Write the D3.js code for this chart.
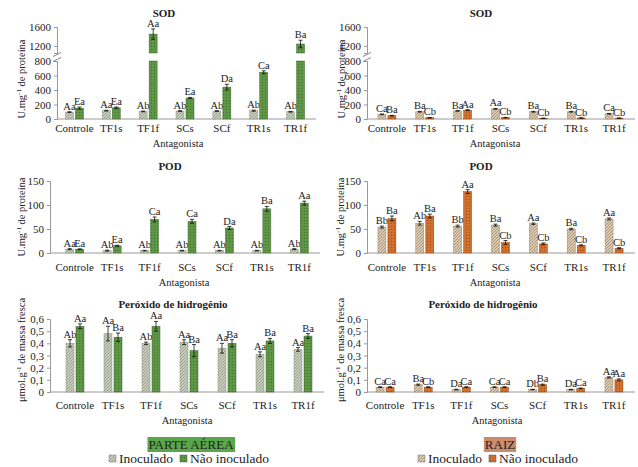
<!DOCTYPE html>
<html>
<head>
<meta charset="utf-8">
<script src="https://cdn.jsdelivr.net/npm/d3@7"></script>
<style>
    body { margin: 0; background: #fff; }
    #SVG_CONTAINER, #SVG_CONTAINER text { font-family: "Liberation Serif", "Times New Roman", "DejaVu Serif", serif !important; }
</style>
</head>
<body>
<svg id="SVG_CONTAINER" width="638" height="467"></svg>
<script>
// ---- data ----
const categories = ["Controle", "TF1s", "TF1f", "SCs", "SCf", "TR1s", "TR1f"];

// SOD - parte aerea
const sodAereaInoc = [95, 115, 105, 110, 110, 115, 100];
const sodAereaInocErr = [5, 6, 5, 5, 5, 8, 5];
const sodAereaInocLbl = ["Aa", "Aa", "Ab", "Ab", "Ab", "Ab", "Ab"];
const sodAereaNao = [150, 155, 1450, 290, 440, 645, 1240];
const sodAereaNaoErr = [15, 10, 110, 8, 40, 20, 80];
const sodAereaNaoLbl = ["Ea", "Ea", "Aa", "Ea", "Da", "Ca", "Ba"];

// SOD - raiz
const sodRaizInoc = [65, 100, 112, 140, 100, 100, 72];
const sodRaizInocErr = [5, 5, 5, 5, 5, 5, 5];
const sodRaizInocLbl = ["Ca", "Ba", "Ba", "Aa", "Ba", "Ba", "Ca"];
const sodRaizNao = [46, 18, 122, 20, 10, 14, 12];
const sodRaizNaoErr = [4, 3, 6, 3, 2, 2, 2];
const sodRaizNaoLbl = ["Ba", "Cb", "Aa", "Cb", "Cb", "Cb", "Cb"];

// POD - parte aerea
const podAereaInoc = [8, 5, 5, 5, 5, 5, 8];
const podAereaInocErr = [1, 1, 0.5, 0.5, 0.5, 0.5, 1];
const podAereaInocLbl = ["Aa", "Ab", "Ab", "Ab", "Ab", "Ab", "Ab"];
const podAereaNao = [8, 15, 70, 66, 52, 92, 104];
const podAereaNaoErr = [0.5, 1, 5, 4, 3, 5, 4];
const podAereaNaoLbl = ["Ea", "Ea", "Ca", "Ca", "Da", "Ba", "Aa"];

// POD - raiz
const podRaizInoc = [54, 62, 56, 58, 61, 50, 71];
const podRaizInocErr = [2, 4, 2, 2, 1.5, 1.5, 2];
const podRaizInocLbl = ["Bb", "Ab", "Bb", "Ba", "Aa", "Ba", "Aa"];
const podRaizNao = [72, 77, 128, 22, 19, 16, 10];
const podRaizNaoErr = [5, 4, 4, 4, 2, 1, 1];
const podRaizNaoLbl = ["Ba", "Ba", "Aa", "Cb", "Cb", "Cb", "Cb"];

// Peroxido - parte aerea
const h2o2AereaInoc = [0.40, 0.48, 0.40, 0.41, 0.36, 0.31, 0.35];
const h2o2AereaInocErr = [0.03, 0.06, 0.01, 0.02, 0.04, 0.02, 0.015];
const h2o2AereaInocLbl = ["Ab", "Aa", "Ab", "Aa", "Aa", "Aa", "Aa"];
const h2o2AereaNao = [0.54, 0.45, 0.54, 0.34, 0.40, 0.42, 0.46];
const h2o2AereaNaoErr = [0.02, 0.035, 0.04, 0.05, 0.03, 0.02, 0.02];
const h2o2AereaNaoLbl = ["Aa", "Ba", "Aa", "Ba", "Ba", "Ba", "Ba"];

// Peroxido - raiz
const h2o2RaizInoc = [0.04, 0.06, 0.02, 0.04, 0.02, 0.02, 0.12];
const h2o2RaizInocErr = [0.003, 0.005, 0.003, 0.003, 0.002, 0.002, 0.005];
const h2o2RaizInocLbl = ["Ca", "Ba", "Da", "Ca", "Db", "Da", "Aa"];
const h2o2RaizNao = [0.04, 0.04, 0.04, 0.04, 0.06, 0.03, 0.10];
const h2o2RaizNaoErr = [0.003, 0.003, 0.003, 0.003, 0.005, 0.003, 0.008];
const h2o2RaizNaoLbl = ["Ca", "Cb", "Ca", "Ca", "Ba", "Ca", "Aa"];

const sodTicksLow = [0, 200, 400, 600, 800];
const sodTicksHigh = [1200, 1600];
const podTicks = [0, 50, 100, 150];
const h2o2Ticks = [0, 0.1, 0.2, 0.3, 0.4, 0.5, 0.6];

const FONT = "Liberation Serif";

let svg = d3.select("#SVG_CONTAINER");

//** PATTERNS *****************************************
let defs = svg.append("defs");

function hatch(id, base, line) {
    let p = defs.append("pattern").attr("id", id)
        .attr("patternUnits", "userSpaceOnUse").attr("width", 3).attr("height", 3);
    p.append("rect").attr("width", 3).attr("height", 3).attr("fill", base);
    p.append("path").attr("d", "M0,3 L3,0 M-1,1 L1,-1 M2,4 L4,2")
        .attr("stroke", line).attr("stroke-width", 0.8);
}
function dots(id, base, dot) {
    let p = defs.append("pattern").attr("id", id)
        .attr("patternUnits", "userSpaceOnUse").attr("width", 3).attr("height", 3);
    p.append("rect").attr("width", 3).attr("height", 3).attr("fill", base);
    p.append("rect").attr("x", 1).attr("y", 1).attr("width", 1).attr("height", 1).attr("fill", dot);
}
hatch("hatchGray", "#c8cdbd", "#8b9680");
dots("dotGreen", "#5f9546", "#41732e");
hatch("hatchTan", "#d9c9b0", "#a28c6e");
dots("dotOrange", "#d0702f", "#a4501b");

function fmtComma(d) {
    return d === 0 ? "0" : String(d).replace(".", ",");
}

function txt(sel, size) {
    return sel.attr("font-family", FONT).style("font-family", FONT)
        .style("font-size", size + "px").attr("fill", "#222");
}

//** PANEL *****************************************
function drawPanel(cfg) {
    let g = svg.append("g");

    let x = d3.scaleBand().domain(categories).range([cfg.x0, cfg.x1]);
    let y = cfg.y;
    let yTop = cfg.yHigh;   // only for broken axis
    let baseY = y(0);

    function pos(v) {
        if (yTop && v > cfg.breakLow) return yTop(v);
        return y(v);
    }

    // axis lines
    g.append("line")
        .attr("x1", cfg.axisX).attr("x2", cfg.x1 + 2)
        .attr("y1", baseY).attr("y2", baseY)
        .attr("stroke", "#999").attr("stroke-width", 1);

    let yAxis = d3.axisLeft(y).tickValues(cfg.ticks).tickSize(3).tickFormat(cfg.fmt || d3.format("d"));
    let ya = g.append("g").attr("transform", "translate(" + cfg.axisX + ",0)").call(yAxis);
    ya.attr("font-family", FONT);
    ya.select(".domain").attr("stroke", "#999");
    ya.selectAll(".tick line").attr("stroke", "#999");
    txt(ya.selectAll(".tick text"), 11);

    if (yTop) {
        let yb = g.append("g").attr("transform", "translate(" + cfg.axisX + ",0)")
            .call(d3.axisLeft(yTop).tickValues(cfg.ticksHigh).tickSize(3).tickFormat(d3.format("d")));
        yb.attr("font-family", FONT);
        yb.select(".domain").attr("stroke", "#999");
        yb.selectAll(".tick line").attr("stroke", "#999");
        txt(yb.selectAll(".tick text"), 11);
        // break marks
        let by = (yTop.range()[0] + y.range()[1]) / 2;
        g.append("rect").attr("x", cfg.axisX - 4).attr("y", by - 2.5).attr("width", 8).attr("height", 5).attr("fill", "#fff");
        [-2.5, 2.5].forEach(function (o) {
            g.append("line")
                .attr("x1", cfg.axisX - 4).attr("y1", by + o + 2)
                .attr("x2", cfg.axisX + 4).attr("y2", by + o - 2)
                .attr("stroke", "#666").attr("stroke-width", 0.8);
        });
    }

    // category labels
    categories.forEach(function (c) {
        txt(g.append("text"), 11)
            .attr("x", x(c) + x.bandwidth() / 2)
            .attr("y", cfg.catY)
            .attr("text-anchor", "middle")
            .text(c);
    });

    // titles
    txt(g.append("text"), 11).attr("x", cfg.titleX).attr("y", cfg.titleY)
        .attr("text-anchor", "middle").attr("font-weight", "bold")
        .text(cfg.title);
    txt(g.append("text"), 10.5).attr("x", cfg.titleX + 14).attr("y", cfg.catY + 15)
        .attr("text-anchor", "middle")
        .text("Antagonista");

    // y label
    let yl = txt(g.append("text"), 10.5)
        .attr("transform", "translate(" + cfg.ylabelX + "," + cfg.ylabelY + ") rotate(-90)")
        .attr("text-anchor", "middle");
    yl.append("tspan").text(cfg.unit);
    yl.append("tspan").attr("dy", -4).style("font-size", "7px").text("-1");
    yl.append("tspan").attr("dy", 4).text(cfg.ylabelRest);

    // bars
    let series = [
        { vals: cfg.inoc, err: cfg.inocErr, lbl: cfg.inocLbl, fill: cfg.fillInoc, stroke: cfg.strokeInoc, off: -9 },
        { vals: cfg.nao, err: cfg.naoErr, lbl: cfg.naoLbl, fill: cfg.fillNao, stroke: cfg.strokeNao, off: 1 }
    ];
    let bw = 8;

    series.forEach(function (s) {
        categories.forEach(function (c, i) {
            let v = s.vals[i];
            let cx = x(c) + x.bandwidth() / 2 + s.off;
            if (yTop && v > cfg.breakLow) {
                g.append("rect").attr("x", cx).attr("y", y.range()[1])
                    .attr("width", bw).attr("height", baseY - y.range()[1])
                    .attr("fill", s.fill).attr("stroke", s.stroke).attr("stroke-width", 0.5);
                g.append("rect").attr("x", cx).attr("y", yTop(v))
                    .attr("width", bw).attr("height", yTop.range()[0] - yTop(v))
                    .attr("fill", s.fill).attr("stroke", s.stroke).attr("stroke-width", 0.5);
            } else {
                g.append("rect").attr("x", cx).attr("y", y(v))
                    .attr("width", bw).attr("height", baseY - y(v))
                    .attr("fill", s.fill).attr("stroke", s.stroke).attr("stroke-width", 0.5);
            }
            // error bar
            let ex = cx + bw / 2;
            let eTop = pos(v + s.err[i]), eBot = pos(v - s.err[i]);
            g.append("path")
                .attr("d", "M" + ex + "," + eTop + "V" + eBot +
                    "M" + (ex - 2) + "," + eTop + "H" + (ex + 2) +
                    "M" + (ex - 2) + "," + eBot + "H" + (ex + 2))
                .attr("stroke", "#111").attr("stroke-width", 0.8).attr("fill", "none");
            // letters
            txt(g.append("text"), 10.5)
                .attr("x", ex).attr("y", eTop - 2)
                .attr("text-anchor", "middle")
                .text(s.lbl[i]);
        });
    });
}

//** SOD *****************************************
drawPanel({
    x0: 56, x1: 314, axisX: 57,
    y: d3.scaleLinear().domain([0, 800]).range([119, 61]),
    yHigh: d3.scaleLinear().domain([1050, 1600]).range([53, 27]),
    breakLow: 800, ticks: sodTicksLow, ticksHigh: sodTicksHigh,
    title: "SOD", titleX: 164, titleY: 17, catY: 132,
    unit: "U.mg", ylabelRest: " de proteína", ylabelX: 25, ylabelY: 79,
    inoc: sodAereaInoc, inocErr: sodAereaInocErr, inocLbl: sodAereaInocLbl,
    nao: sodAereaNao, naoErr: sodAereaNaoErr, naoLbl: sodAereaNaoLbl,
    fillInoc: "url(#hatchGray)", strokeInoc: "#8b9680", fillNao: "url(#dotGreen)", strokeNao: "#3f6e2c"
});
drawPanel({
    x0: 368, x1: 633, axisX: 367,
    y: d3.scaleLinear().domain([0, 800]).range([119, 61]),
    yHigh: d3.scaleLinear().domain([1050, 1600]).range([53, 27]),
    breakLow: 800, ticks: sodTicksLow, ticksHigh: sodTicksHigh,
    title: "SOD", titleX: 481, titleY: 17, catY: 132,
    unit: "U.mg", ylabelRest: " de proteína", ylabelX: 345, ylabelY: 79,
    inoc: sodRaizInoc, inocErr: sodRaizInocErr, inocLbl: sodRaizInocLbl,
    nao: sodRaizNao, naoErr: sodRaizNaoErr, naoLbl: sodRaizNaoLbl,
    fillInoc: "url(#hatchTan)", strokeInoc: "#9c866a", fillNao: "url(#dotOrange)", strokeNao: "#9a4a18"
});

//** POD *****************************************
drawPanel({
    x0: 56, x1: 318, axisX: 50,
    y: d3.scaleLinear().domain([0, 150]).range([253, 181]),
    ticks: podTicks,
    title: "POD", titleX: 170, titleY: 170, catY: 271,
    unit: "U.mg", ylabelRest: " de proteína", ylabelX: 25, ylabelY: 217,
    inoc: podAereaInoc, inocErr: podAereaInocErr, inocLbl: podAereaInocLbl,
    nao: podAereaNao, naoErr: podAereaNaoErr, naoLbl: podAereaNaoLbl,
    fillInoc: "url(#hatchGray)", strokeInoc: "#8b9680", fillNao: "url(#dotGreen)", strokeNao: "#3f6e2c"
});
drawPanel({
    x0: 368, x1: 633, axisX: 367,
    y: d3.scaleLinear().domain([0, 150]).range([253, 181]),
    ticks: podTicks,
    title: "POD", titleX: 481, titleY: 170, catY: 271,
    unit: "U.mg", ylabelRest: " de proteína", ylabelX: 344, ylabelY: 217,
    inoc: podRaizInoc, inocErr: podRaizInocErr, inocLbl: podRaizInocLbl,
    nao: podRaizNao, naoErr: podRaizNaoErr, naoLbl: podRaizNaoLbl,
    fillInoc: "url(#hatchTan)", strokeInoc: "#9c866a", fillNao: "url(#dotOrange)", strokeNao: "#9a4a18"
});

//** PEROXIDO *****************************************
drawPanel({
    x0: 56, x1: 322, axisX: 50,
    y: d3.scaleLinear().domain([0, 0.6]).range([392, 319]),
    ticks: h2o2Ticks, fmt: fmtComma,
    title: "Peróxido de hidrogênio", titleX: 173, titleY: 308, catY: 409,
    unit: "μmol.g", ylabelRest: " de massa fresca", ylabelX: 25, ylabelY: 350,
    inoc: h2o2AereaInoc, inocErr: h2o2AereaInocErr, inocLbl: h2o2AereaInocLbl,
    nao: h2o2AereaNao, naoErr: h2o2AereaNaoErr, naoLbl: h2o2AereaNaoLbl,
    fillInoc: "url(#hatchGray)", strokeInoc: "#8b9680", fillNao: "url(#dotGreen)", strokeNao: "#3f6e2c"
});
drawPanel({
    x0: 366, x1: 633, axisX: 367,
    y: d3.scaleLinear().domain([0, 0.6]).range([392, 319]),
    ticks: h2o2Ticks, fmt: fmtComma,
    title: "Peróxido de hidrogênio", titleX: 483, titleY: 308, catY: 409,
    unit: "μmol.g", ylabelRest: " de massa fresca", ylabelX: 344, ylabelY: 350,
    inoc: h2o2RaizInoc, inocErr: h2o2RaizInocErr, inocLbl: h2o2RaizInocLbl,
    nao: h2o2RaizNao, naoErr: h2o2RaizNaoErr, naoLbl: h2o2RaizNaoLbl,
    fillInoc: "url(#hatchTan)", strokeInoc: "#9c866a", fillNao: "url(#dotOrange)", strokeNao: "#9a4a18"
});

//** LEGENDS *****************************************
function legend(cx, title, titleFill, fillInoc, fillNao) {
    let lg = svg.append("g");
    let t = txt(lg.append("text"), 13).attr("x", cx).attr("y", 449)
        .attr("text-anchor", "middle").text(title);
    let bb = t.node().getBBox();
    lg.insert("rect", "text").attr("x", bb.x - 1).attr("y", 437)
        .attr("width", bb.width + 2).attr("height", 15).attr("fill", titleFill);

    let x0 = cx - 82;
    lg.append("rect").attr("x", x0).attr("y", 455).attr("width", 7).attr("height", 7)
        .attr("fill", fillInoc).attr("stroke", "#777").attr("stroke-width", 0.5);
    txt(lg.append("text"), 13.5).attr("x", x0 + 10).attr("y", 463).text("Inoculado");
    lg.append("rect").attr("x", x0 + 71).attr("y", 455).attr("width", 7).attr("height", 7)
        .attr("fill", fillNao).attr("stroke", "#555").attr("stroke-width", 0.5);
    txt(lg.append("text"), 13.5).attr("x", x0 + 81).attr("y", 463).text("Não inoculado");
}
legend(191, "PARTE AÉREA", "#5aa64b", "url(#hatchGray)", "url(#dotGreen)");
legend(500, "RAIZ", "#c98d6e", "url(#hatchTan)", "url(#dotOrange)");
</script>
</body>
</html>
